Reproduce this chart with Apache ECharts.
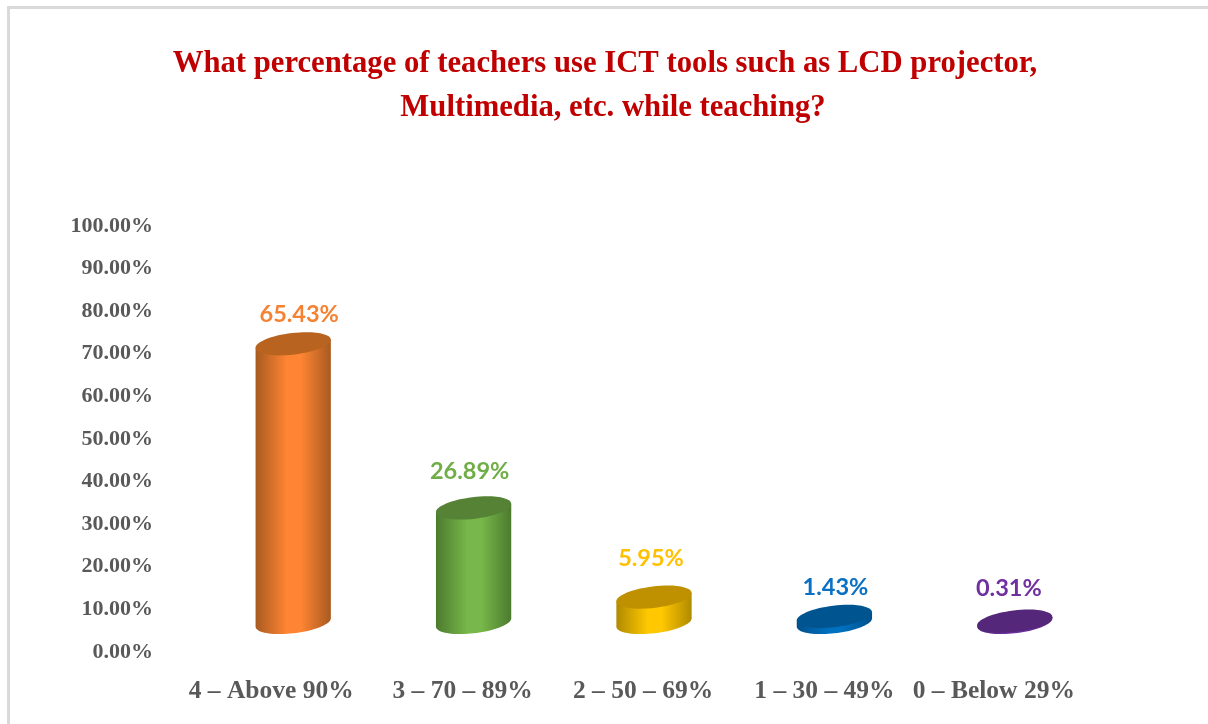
<!DOCTYPE html>
<html>
<head>
<meta charset="utf-8" />
<style>
  html, body { margin: 0; padding: 0; background: #fff; }
  #main { width: 1208px; height: 724px; }
</style>
<script src="https://cdn.jsdelivr.net/npm/echarts@6/dist/echarts.min.js"></script>
</head>
<body>
<div id="main"></div>
<script>
const categories = ["4 – Above 90%", "3 – 70 – 89%", "2 – 50 – 69%", "1 – 30 – 49%", "0 – Below 29%"];
const values = [65.43, 26.89, 5.95, 1.43, 0.31];
const titleLines = [
  "What percentage of teachers use ICT tools such as LCD projector,",
  "Multimedia, etc. while teaching?",
];

// mid tone, edge shade, lid colour, label colour
const midColors = ["#ff8533", "#78b84a", "#ffc800", "#0070c0", "#7030a0"];
const edgeColors = ["#a85a20", "#4c7a2e", "#b08a00", "#00508a", "#55277a"];
const lidColors = ["#b8631f", "#558235", "#bf9000", "#005590", "#55277a"];
const labelColors = ["#f58233", "#70ad47", "#ffc000", "#0a70c4", "#7030a0"];

// the bars stand in front of the axis (fake 3D), so everything is nudged a bit
const depth = 29.5;
const labelDx = [6, -4, -3, 1, -6];
const labelDy = [-29, -37, -39, -29, -33];
const axisLabelShift = [22, 11, 11, 10, 21];

const tilt = 0.12;
const barRatio = 0.42;

function cylinder(params, api) {
  const i = api.value(0);
  const top = api.coord([i, api.value(1)]);
  const base = api.coord([i, 0]);
  const cx = base[0];
  const topY = top[1] - depth;
  const baseY = base[1] - depth;
  const rx = api.size([1, 0])[0] * barRatio / 2;
  const ry = rx * 0.284;
  const cos = Math.cos(tilt);
  const sin = Math.sin(tilt);
  // where the vertical sides touch the tilted ellipse
  const sideX = Math.sqrt(rx * rx * cos * cos + ry * ry * sin * sin);
  const sideY = (rx * rx - ry * ry) * sin * cos / sideX;
  const start = Math.atan2((sideX * sin - sideY * cos) / ry, (sideX * cos + sideY * sin) / rx);
  // outline: down the right side, round the front of the base, up the left side
  const outline = [[cx - sideX, topY + sideY], [cx + sideX, topY - sideY]];
  for (let k = 0; k <= 40; k++) {
    const t = start + Math.PI * k / 40;
    const ex = rx * Math.cos(t);
    const ey = ry * Math.sin(t);
    outline.push([cx + ex * cos + ey * sin, baseY - ex * sin + ey * cos]);
  }
  const fill = new echarts.graphic.LinearGradient(cx - sideX, 0, cx + sideX, 0, [
    { offset: 0, color: edgeColors[i] },
    { offset: 0.42, color: midColors[i] },
    { offset: 0.6, color: midColors[i] },
    { offset: 1, color: edgeColors[i] },
  ], true);
  return {
    type: "group",
    children: [
      {
        type: "polygon",
        shape: { points: outline },
        style: { fill: fill },
      },
      {
        type: "ellipse",
        x: cx, y: topY, rotation: tilt,
        shape: { cx: 0, cy: 0, rx: rx, ry: ry },
        style: { fill: lidColors[i] },
      },
      {
        type: "text",
        x: cx + labelDx[i], y: topY + labelDy[i],
        style: {
          text: api.value(1).toFixed(2) + "%",
          fill: labelColors[i],
          font: "bold 23.5px Lato",
          align: "center",
          verticalAlign: "middle",
        },
      },
    ],
  };
}

const chart = echarts.init(document.getElementById("main"), null, { renderer: "canvas" });
chart.setOption({
  animation: false,
  backgroundColor: "#fff",
  title: titleLines.map((text, i) => ({
    text: text,
    left: i === 0 ? 600 : 608,
    top: i === 0 ? 44 : 88,
    textAlign: "center",
    textStyle: {
      fontFamily: "Liberation Serif",
      fontWeight: "bold",
      fontSize: 30.7,
      color: "#c00000",
    },
  })),
  graphic: [
    {
      type: "rect",
      shape: { x: 8.5, y: 7.5, width: 1300, height: 800 },
      style: { fill: "none", stroke: "#d9d9d9", lineWidth: 3 },
      silent: true,
    },
  ],
  grid: { left: 203, right: 103, top: 226, bottom: 72 },
  xAxis: {
    type: "category",
    data: categories.map((name, i) => ({
      value: name,
      textStyle: { padding: [0, axisLabelShift[i] * 2, 0, 0] },
    })),
    axisLine: { show: false },
    axisTick: { show: false },
    axisLabel: {
      interval: 0,
      margin: 26,
      color: "#595959",
      fontFamily: "Liberation Serif",
      fontWeight: "bold",
      fontSize: 25.5,
    },
  },
  yAxis: {
    type: "value",
    min: 0,
    max: 100,
    interval: 10,
    axisLine: { show: false },
    axisTick: { show: false },
    splitLine: { show: false },
    axisLabel: {
      margin: 50,
      color: "#595959",
      fontFamily: "Liberation Serif",
      fontWeight: "bold",
      fontSize: 22,
      formatter: (v) => v.toFixed(2) + "%",
    },
  },
  series: [
    {
      type: "custom",
      renderItem: cylinder,
      encode: { x: 0, y: 1 },
      data: values.map((v, i) => [i, v]),
    },
  ],
});
window.addEventListener("resize", function () {
  chart.resize();
});
</script>
</body>
</html>
